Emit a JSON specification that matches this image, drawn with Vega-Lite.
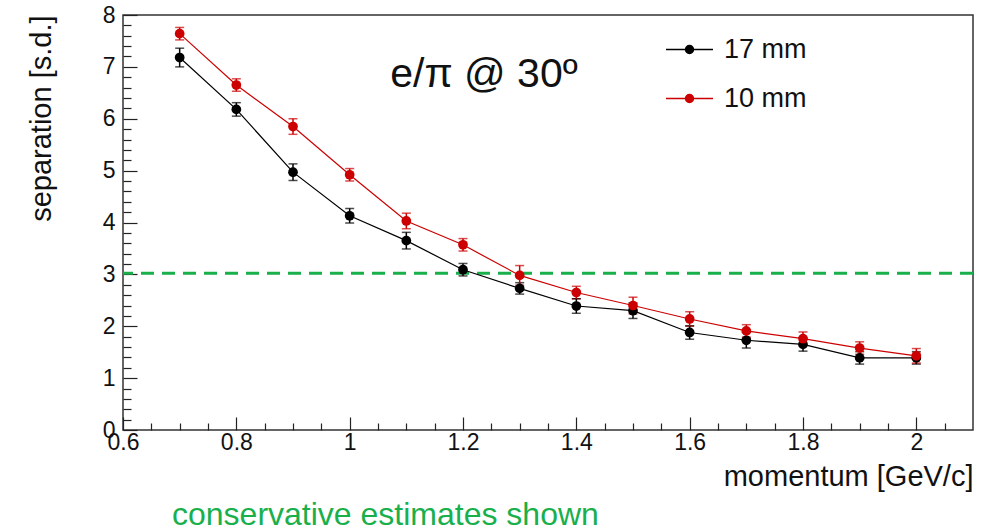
{
  "$schema": "https://vega.github.io/schema/vega-lite/v6.json",
  "width": 850,
  "height": 415,
  "autosize": "none",
  "padding": {"left": 123, "top": 15, "right": 26, "bottom": 101},
  "background": "white",
  "config": {
    "view": {"stroke": "#333333", "strokeWidth": 1.5},
    "font": "Liberation Sans"
  },
  "title": {
    "text": "conservative estimates shown",
    "orient": "bottom",
    "anchor": "start",
    "frame": "group",
    "dx": 49,
    "offset": 9,
    "fontSize": 32,
    "fontWeight": "normal",
    "color": "#19b04c",
    "font": "Liberation Sans"
  },
  "datasets": {
    "pts": [
      {"p": 0.7, "s": "17 mm", "sep": 7.18, "err": 0.18},
      {"p": 0.8, "s": "17 mm", "sep": 6.18, "err": 0.13},
      {"p": 0.9, "s": "17 mm", "sep": 4.97, "err": 0.16},
      {"p": 1.0, "s": "17 mm", "sep": 4.13, "err": 0.14},
      {"p": 1.1, "s": "17 mm", "sep": 3.65, "err": 0.16},
      {"p": 1.2, "s": "17 mm", "sep": 3.09, "err": 0.12},
      {"p": 1.3, "s": "17 mm", "sep": 2.73, "err": 0.11},
      {"p": 1.4, "s": "17 mm", "sep": 2.39, "err": 0.14},
      {"p": 1.5, "s": "17 mm", "sep": 2.30, "err": 0.15},
      {"p": 1.6, "s": "17 mm", "sep": 1.88, "err": 0.13},
      {"p": 1.7, "s": "17 mm", "sep": 1.73, "err": 0.15},
      {"p": 1.8, "s": "17 mm", "sep": 1.65, "err": 0.13},
      {"p": 1.9, "s": "17 mm", "sep": 1.39, "err": 0.12},
      {"p": 2.0, "s": "17 mm", "sep": 1.39, "err": 0.12},
      {"p": 0.7, "s": "10 mm", "sep": 7.64, "err": 0.12},
      {"p": 0.8, "s": "10 mm", "sep": 6.65, "err": 0.12},
      {"p": 0.9, "s": "10 mm", "sep": 5.85, "err": 0.15},
      {"p": 1.0, "s": "10 mm", "sep": 4.92, "err": 0.12},
      {"p": 1.1, "s": "10 mm", "sep": 4.03, "err": 0.15},
      {"p": 1.2, "s": "10 mm", "sep": 3.57, "err": 0.12},
      {"p": 1.3, "s": "10 mm", "sep": 2.98, "err": 0.19},
      {"p": 1.4, "s": "10 mm", "sep": 2.65, "err": 0.12},
      {"p": 1.5, "s": "10 mm", "sep": 2.40, "err": 0.16},
      {"p": 1.6, "s": "10 mm", "sep": 2.14, "err": 0.14},
      {"p": 1.7, "s": "10 mm", "sep": 1.91, "err": 0.12},
      {"p": 1.8, "s": "10 mm", "sep": 1.76, "err": 0.13},
      {"p": 1.9, "s": "10 mm", "sep": 1.58, "err": 0.12},
      {"p": 2.0, "s": "10 mm", "sep": 1.43, "err": 0.14}
    ],
    "thr": [{"sep": 3.02}],
    "ann": [{"p": 1.237, "sep": 6.84, "label": "e/π @ 30º"}]
  },
  "resolve": {"axis": {"x": "independent", "y": "independent"}},
  "layer": [
    {
      "data": {"name": "pts"},
      "mark": {"type": "point", "opacity": 0},
      "encoding": {
        "x": {
          "field": "p", "type": "quantitative",
          "scale": {"domain": [0.6, 2.1], "nice": false, "zero": false},
          "axis": {
            "orient": "bottom", "title": null, "labels": false, "domain": false, "grid": false,
            "values": [0.65,0.7,0.75,0.85,0.9,0.95,1.05,1.1,1.15,1.25,1.3,1.35,1.45,1.5,1.55,1.65,1.7,1.75,1.85,1.9,1.95,2.05],
            "tickSize": -7, "tickColor": "#222222", "tickWidth": 1.2
          }
        },
        "y": {
          "field": "sep", "type": "quantitative",
          "scale": {"domain": [0, 8], "nice": false},
          "axis": {
            "orient": "left", "title": null, "labels": false, "domain": false, "grid": false,
            "values": [0.2,0.4,0.6,0.8,1.2,1.4,1.6,1.8,2.2,2.4,2.6,2.8,3.2,3.4,3.6,3.8,4.2,4.4,4.6,4.8,5.2,5.4,5.6,5.8,6.2,6.4,6.6,6.8,7.2,7.4,7.6,7.8],
            "tickSize": -8, "tickColor": "#222222", "tickWidth": 1.2
          }
        }
      }
    },
    {
      "data": {"name": "thr"},
      "mark": {"type": "rule", "color": "#19b04c", "strokeWidth": 3, "strokeDash": [13, 8]},
      "encoding": {
        "y": {"field": "sep", "type": "quantitative", "axis": null}
      }
    },
    {
      "data": {"name": "pts"},
      "mark": {"type": "line", "strokeWidth": 1.2},
      "encoding": {
        "x": {
          "field": "p", "type": "quantitative",
          "axis": {
            "orient": "bottom",
            "title": "momentum [GeV/c]",
            "titleFontSize": 29, "titleFontWeight": "normal", "titleColor": "#111111",
            "titleAnchor": "end", "titlePadding": 8,
            "labelFontSize": 23, "labelColor": "#111111", "labelPadding": 14,
            "labelFlush": false, "labelOverlap": false,
            "values": [0.6,0.8,1.0,1.2,1.4,1.6,1.8,2.0],
            "labelExpr": "format(datum.value, '~g')",
            "tickSize": -13, "tickColor": "#222222", "tickWidth": 1.2,
            "domain": false, "grid": false
          }
        },
        "y": {
          "field": "sep", "type": "quantitative",
          "axis": {
            "orient": "left",
            "title": "separation [s.d.]",
            "titleFontSize": 29, "titleFontWeight": "normal", "titleColor": "#111111",
            "titleAnchor": "end", "titlePadding": 46,
            "labelFontSize": 23, "labelColor": "#111111", "labelPadding": 22,
            "labelFlush": false, "labelOverlap": false,
            "values": [0,1,2,3,4,5,6,7,8],
            "tickSize": -14, "tickColor": "#222222", "tickWidth": 1.2,
            "domain": false, "grid": false
          }
        },
        "color": {
          "field": "s", "type": "nominal",
          "scale": {"domain": ["17 mm", "10 mm"], "range": ["#000000", "#cc0000"]},
          "legend": {
            "title": null,
            "orient": "none", "legendX": 542, "legendY": 10,
            "symbolType": "M-1,0L1,0M-0.17,0A0.17,0.17,0,1,1,0.17,0A0.17,0.17,0,1,1,-0.17,0Z",
            "symbolSize": 2209, "symbolStrokeWidth": 1.5,
            "labelFontSize": 27, "labelColor": "#111111", "labelOffset": 10,
            "rowPadding": 11, "padding": 0,
            "encode": {
              "symbols": {"update": {
                "fill": {"scale": "color", "field": "value"},
                "stroke": {"scale": "color", "field": "value"}
              }}
            }
          }
        }
      }
    },
    {
      "data": {"name": "pts"},
      "mark": {"type": "errorbar", "ticks": {"size": 9}, "thickness": 1.5},
      "encoding": {
        "x": {"field": "p", "type": "quantitative", "axis": null},
        "y": {"field": "sep", "type": "quantitative", "axis": null},
        "yError": {"field": "err"},
        "color": {"field": "s", "type": "nominal"}
      }
    },
    {
      "data": {"name": "pts"},
      "mark": {"type": "point", "filled": true, "size": 95, "opacity": 1},
      "encoding": {
        "x": {"field": "p", "type": "quantitative", "axis": null},
        "y": {"field": "sep", "type": "quantitative", "axis": null},
        "color": {"field": "s", "type": "nominal"}
      }
    },
    {
      "data": {"name": "ann"},
      "mark": {"type": "text", "fontSize": 41, "color": "#111111", "align": "center", "baseline": "middle"},
      "encoding": {
        "x": {"field": "p", "type": "quantitative", "axis": null},
        "y": {"field": "sep", "type": "quantitative", "axis": null},
        "text": {"field": "label"}
      }
    }
  ]
}
